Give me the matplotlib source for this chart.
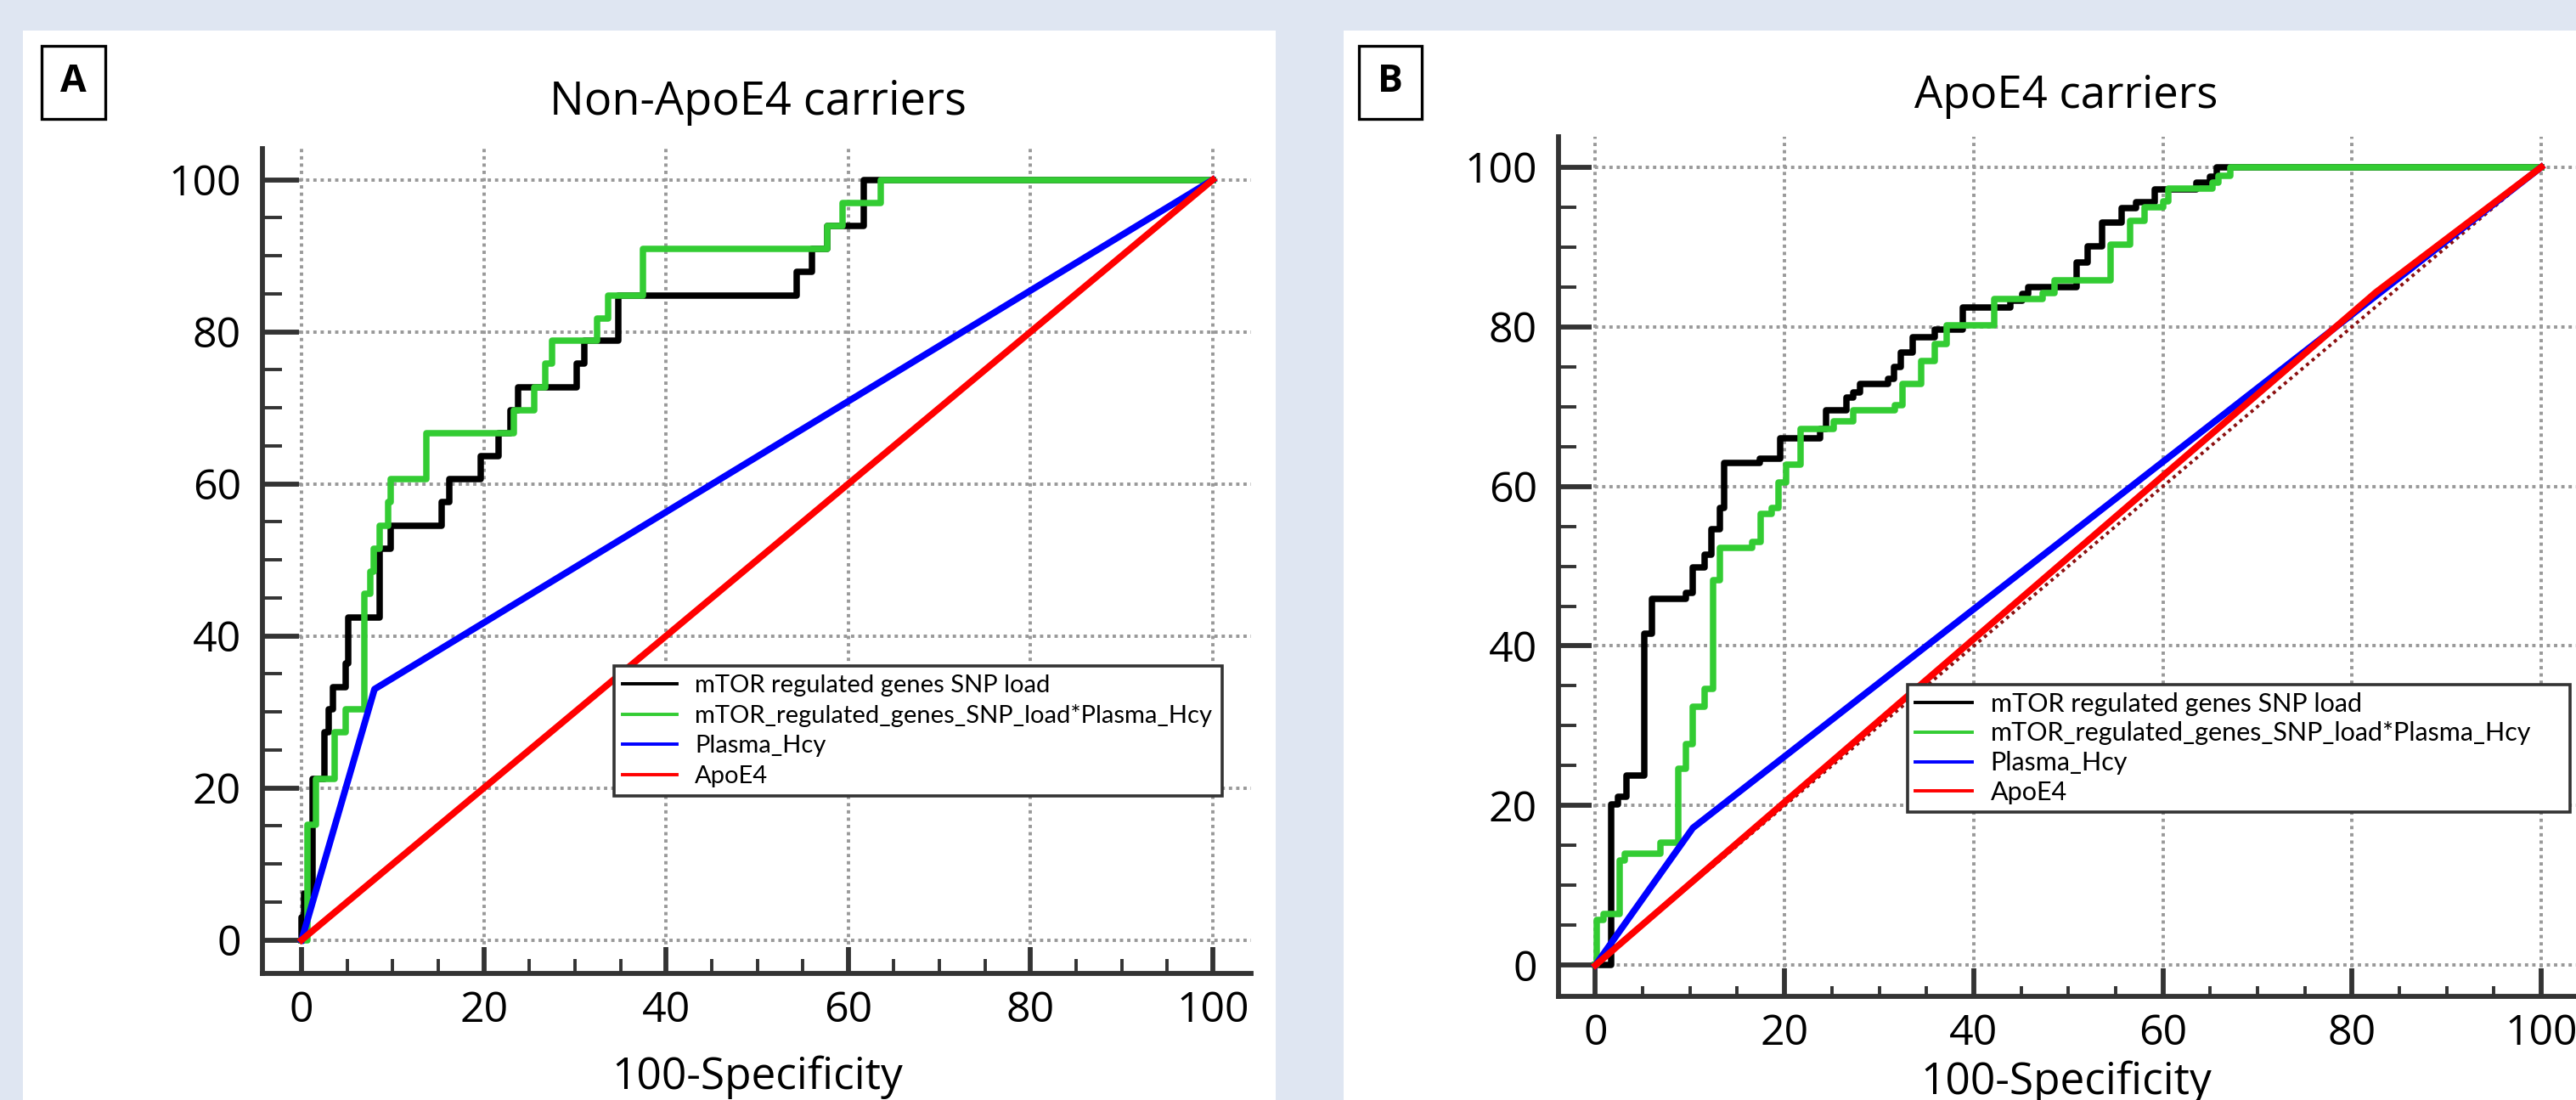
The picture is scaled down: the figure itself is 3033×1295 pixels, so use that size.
import matplotlib.pyplot as plt
from matplotlib.patches import Rectangle
from matplotlib.ticker import MultipleLocator

plt.rcParams['font.family'] = ['Open Sans', 'DejaVu Sans']

# Legend labels (same in both panels)
labels = [
    "mTOR regulated genes SNP load",
    "mTOR_regulated_genes_SNP_load*Plasma_Hcy",
    "Plasma_Hcy",
    "ApoE4",
]
colors = ["black", "#33cc33", "#0000ff", "#ff0000"]

# Panel A: Non-ApoE4 carriers (ROC corners, 100-specificity vs sensitivity)
a_snp_x = [0, 0, 0.3, 1.24, 2.5, 3.0, 3.4, 4.8, 5.1, 8.55, 9.8, 15.4, 16.2, 19.7,
           21.6, 22.9, 23.8, 30.2, 31.0, 34.8, 54.3, 56.0, 57.7, 61.7, 100]
a_snp_y = [0, 3.0, 6.1, 21.2, 27.3, 30.3, 33.3, 36.4, 42.4, 51.5, 54.5, 57.6, 60.6, 63.6,
           66.7, 69.7, 72.7, 75.8, 78.8, 84.8, 87.9, 90.9, 93.9, 100, 100]
a_int_x = [0, 0.6, 1.55, 3.6, 4.8, 6.9, 7.5, 7.9, 8.55, 9.5, 9.8, 13.7, 23.3, 25.5,
           26.7, 27.5, 32.4, 33.6, 37.5, 57.7, 59.4, 63.6, 100]
a_int_y = [0, 15.2, 21.2, 27.3, 30.3, 45.5, 48.5, 51.5, 54.5, 57.6, 60.6, 66.7, 69.7, 72.7,
           75.8, 78.8, 81.8, 84.8, 90.9, 93.9, 97.0, 100, 100]
a_hcy_x = [0, 8.0, 100]
a_hcy_y = [0, 33.0, 100]
a_apoe_x = [0, 100]
a_apoe_y = [0, 100]

# Panel B: ApoE4 carriers
b_snp_x = [0, 1.65, 2.4, 3.3, 5.2, 6.0, 9.6, 10.3, 11.5, 12.3, 13.2, 13.6, 17.4, 19.5,
           23.8, 24.4, 26.5, 27.3, 28.0, 30.9, 31.6, 32.3, 33.5, 35.9, 38.8, 43.9, 45.1,
           45.8, 50.9, 52.0, 53.6, 55.6, 57.2, 59.1, 63.5, 65.0, 65.7, 100]
b_snp_y = [0, 20.1, 21.1, 23.8, 41.5, 45.9, 46.6, 49.8, 51.4, 54.6, 57.3, 62.9, 63.5, 66.0,
           67.2, 69.5, 71.1, 71.8, 72.8, 73.5, 75.0, 76.8, 78.7, 79.6, 82.4, 83.3, 84.1,
           85.0, 88.1, 90.1, 93.1, 94.9, 95.6, 97.2, 98.1, 98.8, 100, 100]
b_int_x = [0, 0.1, 0.9, 2.55, 3.1, 6.9, 8.8, 9.6, 10.3, 11.5, 12.4, 13.2, 16.6, 17.5,
           18.6, 19.4, 20.2, 21.7, 25.2, 27.3, 31.7, 32.5, 34.4, 35.9, 37.1, 42.2, 47.3,
           48.5, 54.5, 56.5, 58.1, 60.0, 60.6, 65.2, 65.9, 67.1, 100]
b_int_y = [0, 5.7, 6.4, 13.1, 14.0, 15.4, 24.6, 27.7, 32.4, 34.6, 48.2, 52.3, 53.0, 56.6,
           57.3, 60.5, 62.7, 67.2, 68.1, 69.5, 70.2, 72.8, 75.7, 77.8, 80.2, 83.5, 84.2,
           85.8, 90.3, 93.3, 95.0, 95.7, 97.3, 98.1, 98.9, 100, 100]
b_hcy_x = [0, 10.3, 100]
b_hcy_y = [0, 17.2, 100]
b_apoe_x = [0, 82.5, 100]
b_apoe_y = [0, 84.3, 100]

W, H = 3033, 1295
fig = plt.figure(figsize=(W / 100, H / 100), dpi=100, facecolor="#dfe6f2")


def fx(px):
    return px / W


def fy(py):
    return 1 - py / H


# white panels (behind the axes)
fig.patches.append(Rectangle((fx(27), 0), fx(1502) - fx(27), fy(36), transform=fig.transFigure,
                             facecolor="white", edgecolor="none", zorder=-5))
fig.patches.append(Rectangle((fx(1582), 0), 1 - fx(1582), fy(36), transform=fig.transFigure,
                             facecolor="white", edgecolor="none", zorder=-5))


def label_box(x0, y0, x1, y1, text):
    fig.patches.append(Rectangle((fx(x0), fy(y1)), fx(x1) - fx(x0), fy(y0) - fy(y1),
                                 transform=fig.transFigure, facecolor="white",
                                 edgecolor="black", linewidth=2.4, zorder=2))
    fig.text(fx((x0 + x1) / 2), fy((y0 + y1) / 2), text, ha="center", va="center",
             fontsize=32, fontweight="bold", zorder=3)


label_box(49, 54, 124, 140, "A")
label_box(1600, 54, 1674, 140, "B")


def draw_panel(ax, series, xlim, ylim, leg_box, leg_size, leg_space, tick_len):
    snp, inter, hcy, apoe = series
    ax.set_facecolor("white")
    ax.plot([0, 100], [0, 100], color="#8b1010", linestyle=(0, (1, 1.2)), linewidth=2.8, zorder=3)
    ax.plot(snp[0], snp[1], drawstyle="steps-post", color=colors[0], lw=5.4, label=labels[0], zorder=4)
    ax.plot(inter[0], inter[1], drawstyle="steps-post", color=colors[1], lw=5.4, label=labels[1], zorder=4)
    ax.plot(hcy[0], hcy[1], color=colors[2], lw=5.6, label=labels[2], zorder=4)
    ax.plot(apoe[0], apoe[1], color=colors[3], lw=5.6, label=labels[3], zorder=4)

    ax.set_xlim(*xlim)
    ax.set_ylim(*ylim)
    ax.xaxis.set_major_locator(MultipleLocator(20))
    ax.yaxis.set_major_locator(MultipleLocator(20))
    ax.xaxis.set_minor_locator(MultipleLocator(5))
    ax.yaxis.set_minor_locator(MultipleLocator(5))
    ax.grid(which="major", color="#999999", linestyle=(0, (1, 1.2)), linewidth=2.8)
    ax.set_axisbelow(True)

    for side in ["top", "right"]:
        ax.spines[side].set_visible(False)
    for side in ["left", "bottom"]:
        ax.spines[side].set_color("#333333")
        ax.spines[side].set_linewidth(4.2)

    xmaj, xmin, ymaj, ymin = tick_len
    ax.tick_params(axis="x", which="major", direction="in", length=xmaj, width=4.2,
                   color="#333333", labelsize=36, pad=14)
    ax.tick_params(axis="x", which="minor", direction="in", length=xmin, width=2.8, color="#333333")
    ax.tick_params(axis="y", which="major", direction="in", length=ymaj, width=4.2,
                   color="#333333", labelsize=36, pad=18)
    ax.tick_params(axis="y", which="minor", direction="in", length=ymin, width=2.8, color="#333333")

    leg = ax.legend(loc="upper left", bbox_to_anchor=leg_box, bbox_transform=ax.transData,
                    mode="expand", borderaxespad=0,
                    prop={"family": ["Lato", "DejaVu Sans"], "size": leg_size},
                    labelspacing=leg_space[0], handlelength=2.2, handletextpad=0.7,
                    borderpad=leg_space[1], fancybox=False, framealpha=1)
    leg.get_frame().set_edgecolor("#333333")
    leg.get_frame().set_linewidth(2.6)
    for line in leg.get_lines():
        line.set_linewidth(2.8)
    leg.set_zorder(6)


ax_a = fig.add_axes([fx(309), fy(1146), fx(1473) - fx(309), fy(175) - fy(1146)])
draw_panel(ax_a,
           [(a_snp_x, a_snp_y), (a_int_x, a_int_y), (a_hcy_x, a_hcy_y), (a_apoe_x, a_apoe_y)],
           (-4.3, 104.2), (-4.4, 104.1), (34.3, 18.9, 66.7, 17.2), 21, (0.32, 0.35),
           (22, 12, 31, 16.5))

ax_b = fig.add_axes([fx(1835), fy(1173), fx(3040) - fx(1835), fy(161) - fy(1173)])
draw_panel(ax_b,
           [(b_snp_x, b_snp_y), (b_int_x, b_int_y), (b_hcy_x, b_hcy_y), (b_apoe_x, b_apoe_y)],
           (-3.9, 104.3), (-3.9, 103.8), (33.0, 19.8, 70.0, 15.4), 22, (0.22, 0.3),
           (24, 9, 28, 15))

fig.text(fx(892), fy(121), "Non-ApoE4 carriers", ha="center", va="center", fontsize=39)
fig.text(fx(2433), fy(113), "ApoE4 carriers", ha="center", va="center", fontsize=38)
fig.text(fx(892), fy(1268), "100-Specificity", ha="center", va="center", fontsize=37)
fig.text(fx(2433), fy(1274), "100-Specificity", ha="center", va="center", fontsize=37)

fig.savefig("out.png", dpi=100, facecolor=fig.get_facecolor())
